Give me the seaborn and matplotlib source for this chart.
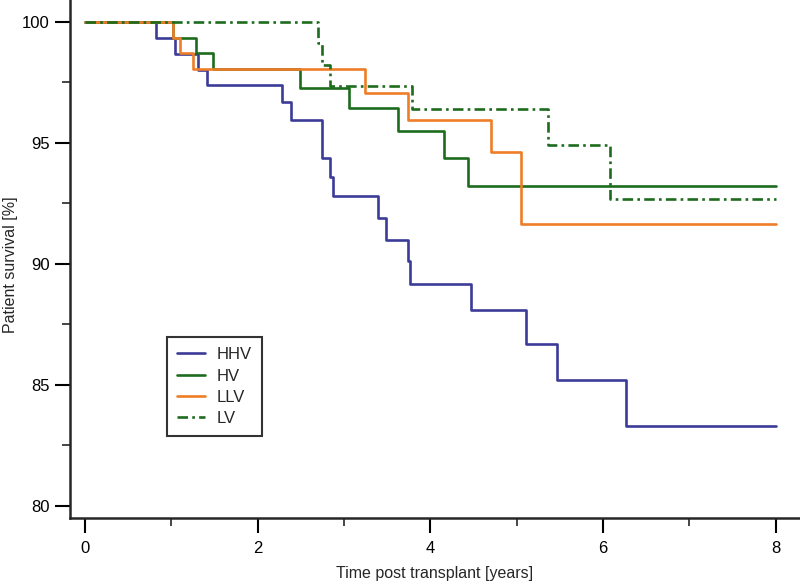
import numpy as np
import pandas as pd
import matplotlib
matplotlib.use('Agg')
import matplotlib.pyplot as plt
from matplotlib.ticker import MultipleLocator
import seaborn as sns

# Kaplan-Meier style survival curves
groups = ['HHV', 'HV', 'LLV', 'LV']

hhv_time = [0, 0.82, 1.04, 1.31, 1.41, 2.28, 2.38, 2.74, 2.75, 2.84, 2.87,
            3.39, 3.48, 3.74, 3.76, 4.47, 5.11, 5.47, 6.26, 8.0]
hhv_surv = [100, 99.33, 98.66, 98.02, 97.40, 96.70, 95.95, 95.17, 94.37, 93.58, 92.81,
            91.89, 90.99, 90.10, 89.16, 88.10, 86.69, 85.19, 83.29, 83.29]

hv_time = [0, 1.02, 1.29, 1.48, 2.49, 3.06, 3.63, 4.16, 4.44, 8.0]
hv_surv = [100, 99.35, 98.73, 98.04, 97.26, 96.43, 95.50, 94.37, 93.22, 93.22]

llv_time = [0, 1.02, 1.10, 1.25, 3.24, 3.74, 4.70, 5.05, 8.0]
llv_surv = [100, 99.35, 98.73, 98.04, 97.05, 95.95, 94.64, 91.65, 91.65]

lv_time = [0, 2.70, 2.75, 2.84, 3.79, 5.36, 6.08, 8.0]
lv_surv = [100, 99.12, 98.22, 97.36, 96.40, 94.89, 92.67, 92.67]

frames = []
for g, t, s in zip(groups, [hhv_time, hv_time, llv_time, lv_time],
                   [hhv_surv, hv_surv, llv_surv, lv_surv]):
    frames.append(pd.DataFrame({'group': g, 'time': t, 'survival': s}))
df = pd.concat(frames, ignore_index=True)

sns.set_style('ticks')
plt.rcParams['font.family'] = ['Liberation Sans', 'DejaVu Sans']

farben = {'HHV': '#3b3b98', 'HV': '#1d6b1d', 'LLV': '#ef7d28', 'LV': '#1d6b1d'}
striche = {'HHV': '', 'HV': '', 'LLV': '', 'LV': (4, 1.6, 1.0, 1.6)}

fig = plt.figure(figsize=(8, 5.86), dpi=100)
ax = fig.add_axes([0.0875, 0.116, 0.9125, 0.884])

sns.lineplot(data=df, x='time', y='survival', hue='group', style='group',
             hue_order=groups, style_order=groups, palette=farben, dashes=striche,
             estimator=None, sort=True, drawstyle='steps-post', linewidth=1.9, ax=ax)

ax.set_xlim(-0.174, 8.28)
ax.set_ylim(79.5, 100.9)
ax.xaxis.set_major_locator(MultipleLocator(2))
ax.xaxis.set_minor_locator(MultipleLocator(1))
ax.yaxis.set_major_locator(MultipleLocator(5))
ax.yaxis.set_minor_locator(MultipleLocator(2.5))

sns.despine(ax=ax)
for sp in ['left', 'bottom']:
    ax.spines[sp].set_linewidth(1.8)
ax.tick_params(which='major', direction='out', length=10.5, width=1.5,
               labelsize=12, pad=4, colors='black')
ax.tick_params(which='minor', direction='out', length=5.5, width=1.2)
ax.tick_params(axis='x', which='major', pad=6)

ax.set_xlabel('Time post transplant [years]', fontsize=11.5)
ax.set_ylabel('Patient survival [%]', fontsize=11.5)
ax.yaxis.set_label_coords(-0.071, 0.49)
ax.xaxis.set_label_coords(0.5, -0.092)

leg = ax.legend(loc='upper left', bbox_to_anchor=(0.133, 0.349), borderaxespad=0,
                frameon=True, fancybox=False, fontsize=12, handlelength=1.7,
                handletextpad=0.7, borderpad=0.6, labelspacing=0.38)
leg.get_frame().set_edgecolor('black')
leg.get_frame().set_linewidth(1.5)

plt.savefig('out.png', dpi=100)
